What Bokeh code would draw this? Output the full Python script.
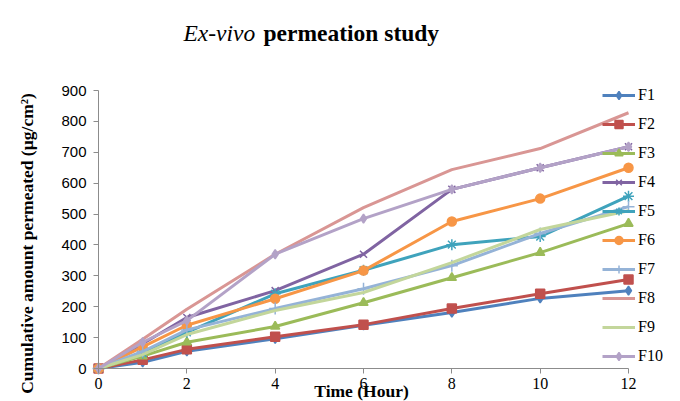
import math
from bokeh.plotting import figure
from bokeh.models import Range1d, FixedTicker, Legend, LegendItem, Label
from bokeh.embed import file_html
from bokeh.resources import INLINE

time_h = [0, 1, 2, 4, 6, 8, 10, 12]
series_names = ["F1", "F2", "F3", "F4", "F5", "F6", "F7", "F8", "F9", "F10"]
F1 = [0, 20, 56, 96, 140, 181, 227, 252]
F2 = [0, 28, 62, 103, 142, 194, 242, 288]
F3 = [0, 40, 85, 136, 213, 294, 375, 469]
F4 = [0, 80, 165, 252, 370, 580, 650, 718]
F5 = [0, 50, 117, 242, 318, 401, 427, 558]
F6 = [0, 70, 140, 226, 317, 476, 550, 650]
F7 = [0, 55, 125, 194, 258, 333, 437, 524]
F8 = [0, 95, 192, 370, 521, 644, 712, 828]
F9 = [0, 45, 110, 188, 246, 343, 450, 511]
F10 = [0, 85, 155, 370, 485, 580, 650, 718]
x_ticks = [0, 2, 4, 6, 8, 10, 12]
y_ticks = [0, 100, 200, 300, 400, 500, 600, 700, 800, 900]

data = [F1, F2, F3, F4, F5, F6, F7, F8, F9, F10]
colors = ["#4F81BD", "#C0504D", "#9BBB59", "#8064A2", "#3FA3BC",
          "#F79646", "#95B3D7", "#D99694", "#C3D69B", "#B3A2C7"]
markers = ["diamond", "square", "triangle", "x", "asterisk",
           "circle", "cross", None, None, "diamond"]
msizes = [9, 9, 9, 10, 11, 9, 12, 0, 0, 9]

p = figure(width=680, height=401, output_backend="svg", toolbar_location=None,
           x_range=Range1d(-2.219, 13.177), y_range=Range1d(-106.8, 1191.4),
           min_border=0)
p.outline_line_color = None
p.xgrid.visible = False
p.ygrid.visible = False
p.background_fill_color = "white"
p.border_fill_color = "white"

xa = p.xaxis[0]
xa.fixed_location = 0
xa.ticker = FixedTicker(ticks=x_ticks)
xa.bounds = (0, 12)
xa.axis_line_color = "#8C8C8C"
xa.major_tick_line_color = "#8C8C8C"
xa.minor_tick_line_color = None
xa.major_tick_in = 0
xa.major_tick_out = 5
xa.major_label_text_font = "Liberation Serif"
xa.major_label_text_font_size = "16px"
xa.major_label_text_color = "#000000"
xa.major_label_standoff = 4

ya = p.yaxis[0]
ya.fixed_location = 0
ya.ticker = FixedTicker(ticks=y_ticks)
ya.bounds = (0, 900)
ya.axis_line_color = "#8C8C8C"
ya.major_tick_line_color = "#8C8C8C"
ya.minor_tick_line_color = None
ya.major_tick_in = 0
ya.major_tick_out = 5
ya.major_label_text_font = "Liberation Sans"
ya.major_label_text_font_size = "15px"
ya.major_label_text_color = "#000000"
ya.major_label_standoff = 7

items = []
for name, ys, c, m, s in zip(series_names, data, colors, markers, msizes):
    rs = []
    ln = p.line(time_h, ys, line_color=c, line_width=3)
    rs.append(ln)
    if m is not None:
        sc = p.scatter(time_h, ys, marker=m, size=s, fill_color=c, line_color=c,
                       line_width=1.5)
        rs.append(sc)
    items.append(LegendItem(label=name, renderers=rs))

legend = Legend(items=items, location=(602, 35), padding=0, margin=0,
                spacing=9, glyph_width=33, glyph_height=20, label_height=20,
                label_standoff=3, border_line_color=None,
                background_fill_alpha=0,
                label_text_font="Liberation Serif", label_text_font_size="16px",
                label_text_color="#000000")
p.add_layout(legend, "center")

common = dict(x_units="screen", y_units="screen", text_font="Liberation Serif",
              text_color="#000000")
t1 = Label(x=183, y=369, text="Ex-vivo", text_font_style="italic",
           text_font_size="23.5px", text_baseline="alphabetic", text_align="left",
           **common)
t2 = Label(x=263, y=369, text="permeation study", text_font_style="bold",
           text_font_size="23.5px", text_baseline="alphabetic", text_align="left",
           **common)
ylab = Label(x=26, y=158, text="Cumulative amount permeated (µg/cm²)",
             angle=math.pi / 2, text_font_style="bold", text_font_size="17.5px",
             text_baseline="middle", text_align="center", **common)
xlab = Label(x=361, y=1, text="Time (Hour)", text_font_style="bold",
             text_font_size="17.5px", text_baseline="bottom",
             text_align="center", **common)
for lb in (t1, t2, ylab, xlab):
    p.add_layout(lb)

open("out.html", "w").write(file_html(p, INLINE))
